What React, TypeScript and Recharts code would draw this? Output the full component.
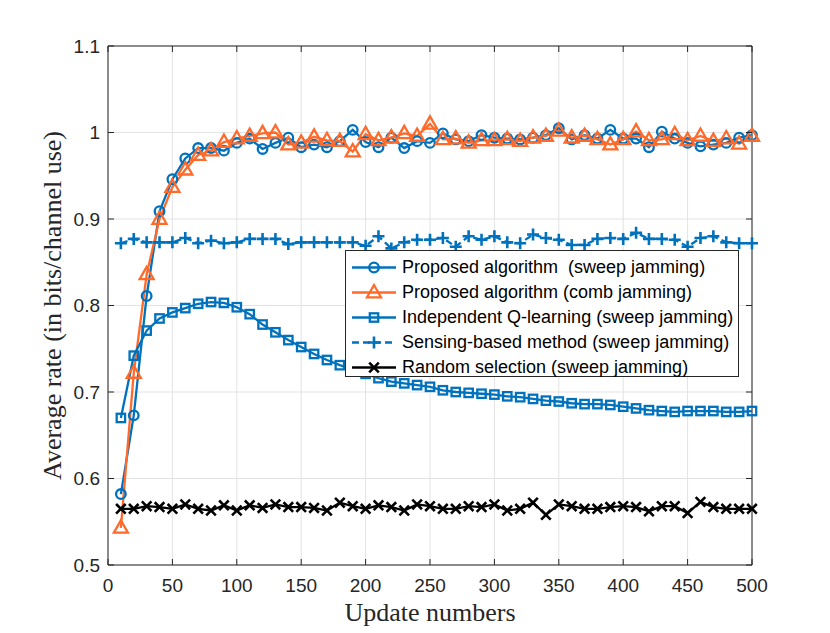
import { LineChart, Line, XAxis, YAxis, CartesianGrid, Legend, ReferenceArea } from "recharts";

const UPDATES = [
  10, 20, 30, 40, 50, 60, 70, 80, 90, 100, 110, 120, 130, 140, 150, 160, 170, 180, 190, 200, 210, 220, 230, 240, 250,
  260, 270, 280, 290, 300, 310, 320, 330, 340, 350, 360, 370, 380, 390, 400, 410, 420, 430, 440, 450, 460, 470, 480,
  490, 500,
];

const PROPOSED_SWEEP = [
  0.582, 0.673, 0.811, 0.909, 0.946, 0.97, 0.982, 0.982, 0.979, 0.988, 0.993, 0.981, 0.988, 0.994, 0.983, 0.986, 0.983,
  0.99, 1.003, 0.989, 0.983, 0.994, 0.982, 0.99, 0.988, 0.999, 0.992, 0.99, 0.997, 0.994, 0.993, 0.992, 0.994, 0.997,
  1.005, 0.992, 0.997, 0.993, 1.003, 0.993, 0.993, 0.983, 1.001, 0.993, 0.988, 0.984, 0.986, 0.988, 0.994, 0.997,
];

const PROPOSED_COMB = [
  0.543, 0.722, 0.836, 0.9, 0.937, 0.957, 0.974, 0.979, 0.989, 0.993, 0.996, 0.999, 1.0, 0.986, 0.988, 0.995, 0.991,
  0.99, 0.978, 0.998, 0.991, 0.994, 0.999, 0.996, 1.01, 0.992, 0.993, 0.988, 0.991, 0.991, 0.992, 0.99, 0.994, 0.996,
  1.002, 0.994, 0.996, 0.992, 0.986, 0.992, 1.001, 0.991, 0.992, 0.998, 0.991, 0.996, 0.99, 0.993, 0.987, 0.996,
];

const INDEPENDENT_Q = [
  0.67, 0.742, 0.771, 0.785, 0.792, 0.797, 0.802, 0.804, 0.803, 0.798, 0.79, 0.778, 0.769, 0.76, 0.752, 0.744, 0.737,
  0.731, 0.726, 0.721, 0.716, 0.712, 0.71, 0.708, 0.706, 0.702, 0.7, 0.699, 0.698, 0.697, 0.695, 0.694, 0.692, 0.69,
  0.689, 0.687, 0.686, 0.686, 0.685, 0.683, 0.681, 0.679, 0.678, 0.677, 0.678, 0.678, 0.678, 0.677, 0.677, 0.678,
];

const SENSING_BASED = [
  0.872, 0.877, 0.873, 0.873, 0.873, 0.878, 0.872, 0.875, 0.872, 0.873, 0.877, 0.877, 0.877, 0.871, 0.873, 0.873, 0.873,
  0.873, 0.873, 0.869, 0.88, 0.866, 0.873, 0.876, 0.876, 0.878, 0.868, 0.88, 0.876, 0.88, 0.873, 0.872, 0.882, 0.878,
  0.876, 0.87, 0.87, 0.877, 0.878, 0.877, 0.884, 0.877, 0.877, 0.876, 0.868, 0.878, 0.88, 0.873, 0.872, 0.872,
];

const RANDOM_SELECTION = [
  0.565, 0.565, 0.568, 0.567, 0.565, 0.57, 0.565, 0.563, 0.569, 0.563, 0.569, 0.566, 0.57, 0.567, 0.567, 0.566, 0.563,
  0.572, 0.568, 0.565, 0.569, 0.567, 0.563, 0.57, 0.568, 0.565, 0.565, 0.568, 0.567, 0.57, 0.563, 0.565, 0.572, 0.558,
  0.57, 0.568, 0.565, 0.565, 0.567, 0.568, 0.567, 0.562, 0.568, 0.568, 0.56, 0.573, 0.567, 0.565, 0.565, 0.565,
];

const SERIES_NAMES = [
  "Proposed algorithm  (sweep jamming)",
  "Proposed algorithm (comb jamming)",
  "Independent Q-learning (sweep jamming)",
  "Sensing-based method (sweep jamming)",
  "Random selection (sweep jamming)",
];

const X_TICKS = [0, 50, 100, 150, 200, 250, 300, 350, 400, 450, 500];
const Y_TICKS = [0.5, 0.6, 0.7, 0.8, 0.9, 1, 1.1];

const data = UPDATES.map((u, i) => ({
  update: u,
  sweep: PROPOSED_SWEEP[i],
  comb: PROPOSED_COMB[i],
  indQ: INDEPENDENT_Q[i],
  sensing: SENSING_BASED[i],
  random: RANDOM_SELECTION[i],
}));

// plot box, page coordinates
const W = 830;
const H = 633;
const LEFT = 108;
const RIGHT = 752;
const TOP = 46;
const BOTTOM = 565;
const TICK_LEN = 6;

const BLUE = "#0072BD";
const ORANGE = "#FF6A2B";
const BLACK = "#000000";
const AXIS = "#262626";
const SANS = "'Liberation Sans', Arial, Helvetica, sans-serif";
const SERIF = "'Liberation Serif', 'Times New Roman', serif";
const LW = 2.3;

type Marker = "circle" | "triangle" | "square" | "plus" | "cross";

function MarkerShape({ kind, cx, cy, color }: { kind: Marker; cx: number; cy: number; color: string }) {
  const common = { fill: "none", stroke: color, strokeWidth: LW };
  switch (kind) {
    case "circle":
      return <circle cx={cx} cy={cy} r={4.8} {...common} />;
    case "triangle":
      return <polygon points={`${cx},${cy - 7.5} ${cx - 7},${cy + 4.8} ${cx + 7},${cy + 4.8}`} {...common} />;
    case "square":
      return <rect x={cx - 4.2} y={cy - 4.2} width={8.4} height={8.4} {...common} />;
    case "plus":
      return <path d={`M${cx - 6},${cy}H${cx + 6}M${cx},${cy - 6}V${cy + 6}`} {...common} strokeWidth={2.6} />;
    default:
      return <path d={`M${cx - 4.8},${cy - 4.8}L${cx + 4.8},${cy + 4.8}M${cx - 4.8},${cy + 4.8}L${cx + 4.8},${cy - 4.8}`} {...common} strokeWidth={2.6} />;
  }
}

const dotOf = (kind: Marker, color: string) => (p: any) =>
  p.cx == null ? <g key={`${kind}${p.index}`} /> : (
    <g key={`${kind}${p.index}`}>
      <MarkerShape kind={kind} cx={p.cx} cy={p.cy} color={color} />
    </g>
  );

const SERIES: { key: string; color: string; marker: Marker; dash?: string }[] = [
  { key: "sweep", color: BLUE, marker: "circle" },
  { key: "comb", color: ORANGE, marker: "triangle" },
  { key: "indQ", color: BLUE, marker: "square" },
  { key: "sensing", color: BLUE, marker: "plus", dash: "7 4" },
  { key: "random", color: BLACK, marker: "cross" },
];

function YTick({ y, payload }: any) {
  return (
    <g>
      <line x1={LEFT} x2={LEFT + TICK_LEN} y1={y} y2={y} stroke={AXIS} />
      <line x1={RIGHT} x2={RIGHT - TICK_LEN} y1={y} y2={y} stroke={AXIS} />
      <text x={LEFT - 8} y={y} textAnchor="end" dominantBaseline="central" fontFamily={SANS} fontSize={19} fill={AXIS}>
        {String(payload.value)}
      </text>
    </g>
  );
}

function XTick({ x, payload }: any) {
  return (
    <g>
      <line x1={x} x2={x} y1={BOTTOM} y2={BOTTOM - TICK_LEN} stroke={AXIS} />
      <line x1={x} x2={x} y1={TOP} y2={TOP + TICK_LEN} stroke={AXIS} />
      <text x={x} y={BOTTOM + 20} textAnchor="middle" dominantBaseline="central" fontFamily={SANS} fontSize={19} fill={AXIS}>
        {String(payload.value)}
      </text>
    </g>
  );
}

function LegendBox() {
  return (
    <div
      style={{
        border: `1px solid ${AXIS}`,
        background: "#fff",
        width: 394,
        height: 127,
        boxSizing: "border-box",
        paddingTop: 4,
        fontFamily: SANS,
        fontSize: 18,
        color: "#000",
      }}
    >
      {SERIES.map((s, i) => (
        <div key={s.key} style={{ display: "flex", alignItems: "center", height: 25 }}>
          <svg width={56} height={25} style={{ flex: "none" }}>
            <line x1={6} x2={50} y1={12.5} y2={12.5} stroke={s.color} strokeWidth={LW} strokeDasharray={s.dash} />
            <MarkerShape kind={s.marker} cx={28} cy={12.5} color={s.color} />
          </svg>
          <span style={{ whiteSpace: "pre", lineHeight: "25px" }}>{SERIES_NAMES[i]}</span>
        </div>
      ))}
    </div>
  );
}

export default function App() {
  return (
    <div style={{ position: "absolute", left: 0, top: 0, width: W, height: H, background: "#fff" }}>
      <LineChart width={W} height={H} data={data} margin={{ top: TOP, right: W - RIGHT, bottom: 0, left: 0 }}>
        <CartesianGrid stroke="#e3e3e3" strokeWidth={1} />
        <XAxis
          dataKey="update"
          type="number"
          domain={[0, 500]}
          ticks={X_TICKS}
          height={H - BOTTOM}
          axisLine={false}
          tickLine={false}
          tick={<XTick />}
          interval={0}
          label={{
            value: "Update numbers",
            position: "insideBottom",
            offset: 12,
            style: { fontFamily: SERIF, fontSize: 26, fill: AXIS },
          }}
        />
        <YAxis
          type="number"
          domain={[0.5, 1.1]}
          ticks={Y_TICKS}
          width={LEFT}
          axisLine={false}
          tickLine={false}
          tick={<YTick />}
          interval={0}
          allowDataOverflow
          label={{
            value: "Average rate (in bits/channel use)",
            position: "center",
            angle: -90,
            dx: -2,
            style: { fontFamily: SERIF, fontSize: 26, fill: AXIS, textAnchor: "middle" },
          }}
        />
        <ReferenceArea x1={0} x2={500} y1={0.5} y2={1.1} fill="none" stroke={AXIS} strokeWidth={1} ifOverflow="visible" />
        {SERIES.map((s, i) => (
          <Line
            key={s.key}
            dataKey={s.key}
            name={SERIES_NAMES[i]}
            type="linear"
            stroke={s.color}
            strokeWidth={LW}
            strokeDasharray={s.dash}
            dot={dotOf(s.marker, s.color)}
            activeDot={false}
            isAnimationActive={false}
          />
        ))}
        <Legend
          layout="vertical"
          align="center"
          verticalAlign="middle"
          content={() => <LegendBox />}
          wrapperStyle={{ left: 345, top: 250, width: 394, height: 127 }}
        />
      </LineChart>
    </div>
  );
}
